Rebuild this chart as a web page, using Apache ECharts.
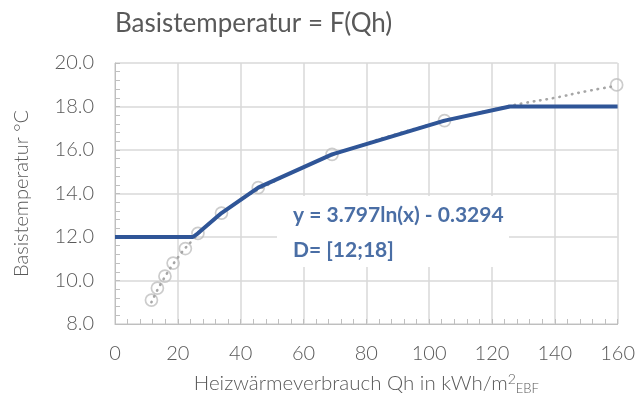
<!DOCTYPE html>
<html><head><meta charset="utf-8">
<script src="https://cdn.jsdelivr.net/npm/echarts@6/dist/echarts.min.js"></script>
<style>html,body{margin:0;padding:0;background:#fff}#c{width:638px;height:400px}</style>
</head><body><div id="c"></div>
<script>
// Measured points (Qh, Basistemperatur)
const pointsX = [11.6, 13.5, 15.9, 18.5, 22.4, 26.4, 33.9, 45.6, 69.1, 104.9, 159.7];
const pointsY = [9.1, 9.65, 10.2, 10.8, 11.47, 12.17, 13.1, 14.27, 15.8, 17.35, 18.99];
// Clamped function D=[12;18] (blue line)
const funcX = [0, 24.8, 26.4, 33.9, 45.6, 69.1, 104.9, 125.7, 160];
const funcY = [12, 12, 12.17, 13.1, 14.27, 15.8, 17.35, 18, 18];
// Logarithmic trendline (dotted)
const trendX = [11.6, 15, 20, 25, 30, 40, 50, 60, 70, 80, 90, 100, 110, 120, 130, 140, 150, 159.7];
const trendY = [9.0, 9.95, 11.05, 11.9, 12.6, 13.7, 14.5, 15.2, 15.8, 16.3, 16.75, 17.15, 17.5, 17.85, 18.15, 18.4, 18.7, 18.95];
const xTicks = [0, 20, 40, 60, 80, 100, 120, 140, 160];
const yTicks = [8, 10, 12, 14, 16, 18, 20];

const zip = (a, b) => a.map((v, i) => [v, b[i]]);
const FONT = 'Lato';
const GREY = '#595959';
const chart = echarts.init(document.getElementById('c'), null, {renderer: 'canvas'});
chart.setOption({
  animation: false,
  textStyle: {fontFamily: FONT},
  title: {
    text: 'Basistemperatur = F(Qh)', left: 110, top: 6,
    textStyle: {fontFamily: FONT, fontWeight: 'normal', fontSize: 26, color: GREY}
  },
  grid: {left: 115, right: 18, top: 63, bottom: 75, containLabel: false},
  xAxis: {
    type: 'value', min: xTicks[0], max: xTicks[xTicks.length - 1], interval: 20,
    axisLine: {show: true, lineStyle: {color: '#bfbfbf', width: 1}},
    axisTick: {show: true, inside: true, length: 5, lineStyle: {color: '#bfbfbf'}},
    minorTick: {show: true, splitNumber: 5, length: 5, lineStyle: {color: '#bfbfbf'}},
    splitLine: {show: true, lineStyle: {color: '#d9d9d9', width: 1.5}},
    axisLabel: {fontFamily: FONT, fontWeight: 300, fontSize: 20, color: GREY, margin: 20},
    name: '{n|Heizwärmeverbrauch Qh in kWh/m}{sup|2}{sub|EBF}',
    nameLocation: 'middle', nameGap: 48,
    nameTextStyle: {
      rich: {
        n: {fontFamily: FONT, fontWeight: 300, fontSize: 20.5, color: GREY},
        sup: {fontFamily: FONT, fontWeight: 300, fontSize: 14, color: GREY, verticalAlign: 'top', padding: [0, 0, 9, 0]},
        sub: {fontFamily: FONT, fontWeight: 300, fontSize: 13, color: GREY, verticalAlign: 'bottom', padding: [9, 0, 0, 0]}
      }
    }
  },
  yAxis: {
    type: 'value', min: yTicks[0], max: yTicks[yTicks.length - 1], interval: 2,
    axisLine: {show: true, lineStyle: {color: '#bfbfbf', width: 1}},
    axisTick: {show: true, inside: true, length: 5, lineStyle: {color: '#bfbfbf'}},
    minorTick: {show: true, splitNumber: 5, length: 5, lineStyle: {color: '#bfbfbf'}},
    splitLine: {show: true, lineStyle: {color: '#d9d9d9', width: 1.5}},
    axisLabel: {fontFamily: FONT, fontWeight: 300, fontSize: 20, color: GREY, margin: 21,
      formatter: v => v.toFixed(1)},
    name: 'Basistemperatur °C', nameLocation: 'middle', nameGap: 83,
    nameTextStyle: {fontFamily: FONT, fontWeight: 300, fontSize: 20, color: GREY}
  },
  series: [
    {
      type: 'scatter', data: zip(pointsX, pointsY), symbol: 'circle', symbolSize: 12,
      itemStyle: {color: 'rgba(255,255,255,0)', borderColor: '#bfbfbf', borderWidth: 1.7}, z: 2
    },
    {
      type: 'line', data: zip(trendX, trendY), smooth: true, showSymbol: false, symbol: 'none',
      lineStyle: {color: '#a6a6a6', width: 2.6, type: [0.5, 6], cap: 'round'}, z: 3
    },
    {
      type: 'line', data: zip(funcX, funcY), showSymbol: false, symbol: 'none',
      lineStyle: {color: '#2f5597', width: 4, cap: 'butt', join: 'round'}, z: 4
    }
  ],
  graphic: [
    {type: 'rect', left: 277, top: 196, shape: {width: 232, height: 71}, style: {fill: '#fff'}, z: 10},
    {type: 'text', left: 293, top: 205, z: 11,
      style: {text: 'y = 3.797ln(x) - 0.3294', font: 'bold 21px Lato', fill: '#4a6ea5'}},
    {type: 'text', left: 293, top: 240, z: 11,
      style: {text: 'D= [12;18]', font: 'bold 21px Lato', fill: '#4a6ea5'}}
  ]
});
</script></body></html>
